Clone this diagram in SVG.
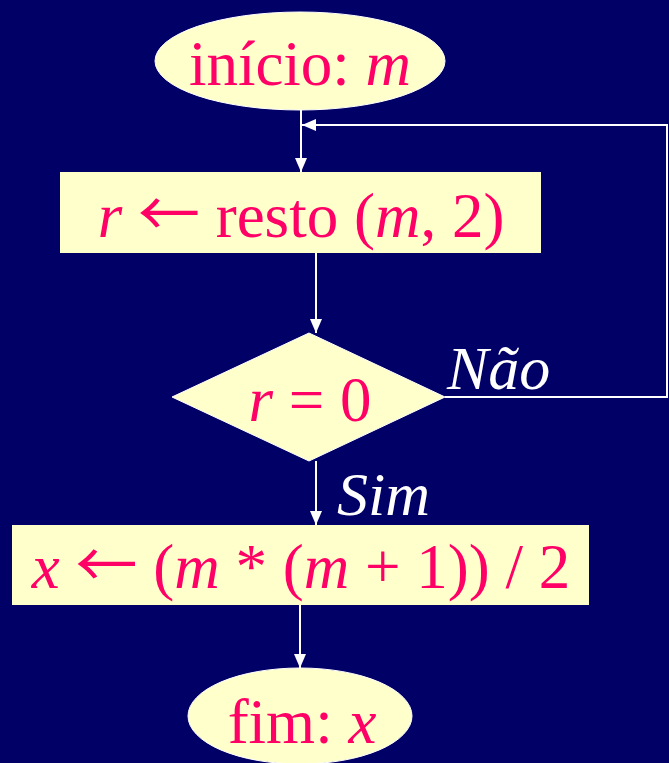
<svg xmlns="http://www.w3.org/2000/svg" width="669" height="763" viewBox="0 0 669 763">
<defs>
<style>
.node{fill:#FFFFCC;stroke:#FFFFFF;stroke-width:1}
.t{font-size:63px;fill:#FF0066;text-anchor:middle}
.i{font-style:italic}
.ar{font-size:62px;font-style:normal}
.lbl{font-size:62px;fill:#FFFFFF;font-style:italic}
.c{stroke:#FFFFFF;stroke-width:2;fill:none}
</style>
<marker id="ah" viewBox="0 0 14 12" refX="14" refY="6" markerWidth="14" markerHeight="12" markerUnits="userSpaceOnUse" orient="auto">
<path d="M0,0 L14,6 L0,12 Z" fill="#FFFFFF"/>
</marker>
</defs>
<rect x="0" y="0" width="669" height="763" fill="#000066"/>
<g id="connectors">
<line class="c" x1="301" y1="110" x2="301" y2="172" marker-end="url(#ah)"/>
<polyline class="c" points="445,397 667,397 667,125 302,125" marker-end="url(#ah)"/>
<line class="c" x1="316" y1="253" x2="316" y2="333" marker-end="url(#ah)"/>
<line class="c" x1="316" y1="461" x2="316" y2="525" marker-end="url(#ah)"/>
<line class="c" x1="300" y1="605" x2="300" y2="668" marker-end="url(#ah)"/>
<text class="lbl" font-family="'Liberation Serif', serif" x="447" y="389">Não</text>
<text class="lbl" font-family="'Liberation Serif', serif" x="337" y="515">Sim</text>
</g>
<g id="inicio">
<ellipse class="node" cx="300" cy="61" rx="145" ry="49"/>
<text class="t" font-family="'Liberation Serif', serif" x="300" y="85">início: <tspan class="i">m</tspan></text>
</g>
<g id="resto">
<rect x="60" y="172" width="481" height="81" fill="#FFFFCC"/>
<text class="t" font-family="'Liberation Serif', serif" x="301" y="237"><tspan class="i">r</tspan> <tspan class="ar" font-family="'Noto Sans CJK JP', sans-serif">←</tspan> resto (<tspan class="i">m</tspan>, 2)</text>
</g>
<g id="decisao">
<polygon class="node" points="309,333 445,397 309,461 172,397"/>
<text class="t" font-family="'Liberation Serif', serif" x="310" y="421"><tspan class="i">r</tspan> = 0</text>
</g>
<g id="calculo">
<rect x="12" y="525" width="577" height="80" fill="#FFFFCC"/>
<text class="t" font-family="'Liberation Serif', serif" x="301" y="588"><tspan class="i">x</tspan> <tspan class="ar" font-family="'Noto Sans CJK JP', sans-serif">←</tspan> (<tspan class="i">m</tspan> * (<tspan class="i">m</tspan> + 1)) / 2</text>
</g>
<g id="fim">
<ellipse class="node" cx="300" cy="716" rx="112" ry="48"/>
<text class="t" font-family="'Liberation Serif', serif" x="302" y="743">fim: <tspan class="i">x</tspan></text>
</g>
</svg>
